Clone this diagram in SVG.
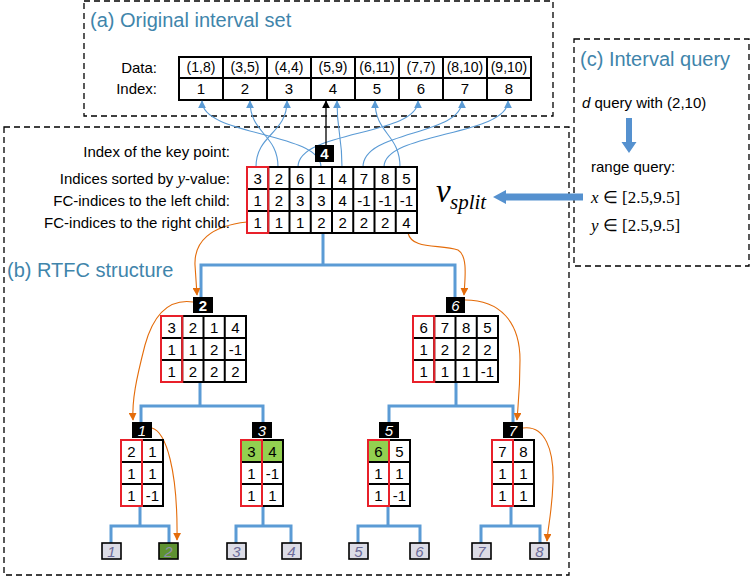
<svg xmlns="http://www.w3.org/2000/svg" width="750" height="577" viewBox="0 0 750 577">
<defs>
<style>
.frame{fill:none;stroke:#000;stroke-width:1.3;stroke-dasharray:6 4}
.title{font-family:"Liberation Sans",Arial,sans-serif;font-size:20px;fill:#3f85ab}
.lbl{font-family:"Liberation Sans",Arial,sans-serif;font-size:15px;fill:#000}
.lblr{font-family:"Liberation Sans",Arial,sans-serif;font-size:15px;fill:#000;text-anchor:end}
.cv{font-family:"Liberation Sans",Arial,sans-serif;font-size:15px;fill:#000;text-anchor:middle}
.dv{font-family:"Liberation Sans",Arial,sans-serif;font-size:14px;fill:#000;text-anchor:middle}
.tbl{fill:#fff;stroke:#000;stroke-width:2}
.grid{fill:none;stroke:#000;stroke-width:2}
.red{fill:none;stroke:#e8202a;stroke-width:2}
.green{fill:#92d050}
.key{fill:#000}
.kt{font-family:"Liberation Sans",Arial,sans-serif;font-size:15px;fill:#fff;text-anchor:middle;font-style:italic}
.ktu{font-family:"Liberation Sans",Arial,sans-serif;font-size:15px;fill:#fff;text-anchor:middle;font-weight:bold}
.leaf{fill:#dcdce6;stroke:#000;stroke-width:1.6}
.leafg{fill:#5e9231;stroke:#000;stroke-width:1.6}
.lt{font-family:"Liberation Sans",Arial,sans-serif;font-size:15px;fill:#6b6b99;text-anchor:middle;font-style:italic}
.ltg{font-family:"Liberation Sans",Arial,sans-serif;font-size:15px;fill:#8e8eae;text-anchor:middle;font-style:italic}
.tree{fill:none;stroke:#5b9bd5;stroke-width:3}
.thin{fill:none;stroke:#5b9bd5;stroke-width:1.1;marker-end:url(#ab)}
.org{fill:none;stroke:#e46c0a;stroke-width:1.1;marker-end:url(#ao)}
.serif{font-family:"Liberation Serif","Times New Roman",serif;fill:#000}
</style>
<marker id="ab" viewBox="0 0 10 10" refX="9" refY="5" markerWidth="8" markerHeight="8" markerUnits="userSpaceOnUse" orient="auto"><path d="M0,0 L10,5 L0,10 z" fill="#5b9bd5"/></marker>
<marker id="ao" viewBox="0 0 10 10" refX="9" refY="5" markerWidth="8" markerHeight="8" markerUnits="userSpaceOnUse" orient="auto"><path d="M0,0 L10,5 L0,10 z" fill="#e46c0a"/></marker>
<marker id="ak" viewBox="0 0 10 10" refX="9" refY="5" markerWidth="8" markerHeight="8" markerUnits="userSpaceOnUse" orient="auto"><path d="M0,0 L10,5 L0,10 z" fill="#000"/></marker>
</defs>
<rect width="750" height="577" fill="#fff"/>

<!-- frames -->
<g id="frame-a">
<rect class="frame" x="84" y="1" width="469" height="115"/>
<text class="title" x="90" y="27">(a) Original interval set</text>
</g>
<g id="frame-b">
<rect class="frame" x="4" y="127" width="565" height="448"/>
<text class="title" x="7" y="277">(b) RTFC structure</text>
</g>
<g id="frame-c">
<rect class="frame" x="574" y="39" width="175" height="227"/>
<text class="title" x="580" y="66">(c) Interval query</text>
<text class="lbl" x="582" y="108"><tspan font-style="italic">d</tspan> query with (2,10)</text>
<polygon points="626,118 632,118 632,142 636.5,142 629,153 621.5,142 626,142" fill="#5591cf"/>
<text class="lbl" x="591" y="172">range query:</text>
<text class="serif" x="591" y="203" font-size="17"><tspan font-style="italic">x</tspan> ∈ [2.5,9.5]</text>
<text class="serif" x="591" y="231" font-size="17"><tspan font-style="italic">y</tspan> ∈ [2.5,9.5]</text>
<polygon points="583,193.5 506,193.5 506,190 493,197 506,204 506,200.5 583,200.5" fill="#5591cf"/>
</g>

<!-- original data table -->
<g id="data-table">
<text class="lblr" x="157" y="73">Data:</text>
<text class="lblr" x="157" y="94">Index:</text>
<rect class="tbl" x="179" y="57" width="352" height="43"/>
<path class="grid" d="M179,78H531M223,57V100M267,57V100M311,57V100M355,57V100M399,57V100M443,57V100M487,57V100"/>
<text class="dv" x="201" y="72">(1,8)</text>
<text class="dv" x="245" y="72">(3,5)</text>
<text class="dv" x="289" y="72">(4,4)</text>
<text class="dv" x="333" y="72">(5,9)</text>
<text class="dv" x="377" y="72">(6,11)</text>
<text class="dv" x="421" y="72">(7,7)</text>
<text class="dv" x="465" y="72">(8,10)</text>
<text class="dv" x="509" y="72">(9,10)</text>
<text class="cv" x="201" y="94">1</text>
<text class="cv" x="245" y="94">2</text>
<text class="cv" x="289" y="94">3</text>
<text class="cv" x="333" y="94">4</text>
<text class="cv" x="377" y="94">5</text>
<text class="cv" x="421" y="94">6</text>
<text class="cv" x="465" y="94">7</text>
<text class="cv" x="509" y="94">8</text>
</g>

<!-- connectors -->
<g id="connectors">
<path class="thin" d="M321,167 C321,132 202,136 202,101"/>
<path class="thin" d="M278,167 C278,134 250,134 250,101"/>
<path class="thin" d="M256,167 C256,134 287,134 287,101"/>
<path class="thin" d="M342,167 C342,134 337,134 337,101"/>
<path class="thin" d="M400,167 C400,134 375,134 375,101"/>
<path class="thin" d="M298,167 C298,130 418,136 418,101"/>
<path class="thin" d="M363,167 C363,130 462,136 462,101"/>
<path class="thin" d="M384,167 C384,132 508,136 508,101"/>
<path d="M326,145 V101" fill="none" stroke="#000" stroke-width="1.3" marker-end="url(#ak)"/>

<path class="tree" d="M323,233 V265 M201,297 V265 H455 V297"/>
<path class="tree" d="M200,382 V406 M141,422 V406 H263 V422"/>
<path class="tree" d="M456,382 V406 M389,422 V406 H513 V422"/>
<path class="tree" d="M140,506 V526 M111,543 V526 H169 V543"/>
<path class="tree" d="M263,506 V526 M236,543 V526 H291 V543"/>
<path class="tree" d="M388,506 V526 M358,543 V526 H420 V543"/>
<path class="tree" d="M511,506 V526 M481,543 V526 H540 V543"/>

<path class="org" d="M247,222 C210,226 194,242 195,265 L197,295"/>
<path class="org" d="M408,233 C412,250 440,244 458,250 C468,256 465,278 464,295"/>
<path class="org" d="M193,302 C165,298 152,320 145,345 C136,380 132,400 133,420"/>
<path class="org" d="M465,300 C500,300 520,322 520,360 C520,392 518,405 517,420"/>
<path class="org" d="M152,428 C166,432 178,470 177,540"/>
<path class="org" d="M523,428 C545,425 554,450 553,482 C552,512 548,526 547,541"/>
</g>

<!-- root node -->
<g id="node-root">
<text class="lblr" x="230" y="157">Index of the key point:</text>
<text class="lblr" x="230" y="184">Indices sorted by <tspan font-family="Liberation Serif,serif" font-style="italic" font-size="17">y</tspan>-value:</text>
<text class="lblr" x="230" y="206">FC-indices to the left child:</text>
<text class="lblr" x="230" y="228">FC-indices to the right child:</text>
<rect class="key" x="315" y="145" width="19" height="17"/>
<text class="ktu" x="324.5" y="159">4</text>
<rect class="tbl" x="247" y="167" width="170" height="66"/>
<path class="grid" d="M247,189H417M247,211H417M268.25,167V233M289.5,167V233M310.75,167V233M332,167V233M353.25,167V233M374.5,167V233M395.75,167V233"/>
<rect class="red" x="247" y="167" width="21.25" height="66"/>
<g class="cv">
<text x="257.6" y="183.5">3</text><text x="278.9" y="183.5">2</text><text x="300.1" y="183.5">6</text><text x="321.4" y="183.5">1</text><text x="342.6" y="183.5">4</text><text x="363.9" y="183.5">7</text><text x="385.1" y="183.5">8</text><text x="406.4" y="183.5">5</text>
<text x="257.6" y="205.5">1</text><text x="278.9" y="205.5">2</text><text x="300.1" y="205.5">3</text><text x="321.4" y="205.5">3</text><text x="342.6" y="205.5">4</text><text x="363.9" y="205.5">-1</text><text x="385.1" y="205.5">-1</text><text x="406.4" y="205.5">-1</text>
<text x="257.6" y="227.5">1</text><text x="278.9" y="227.5">1</text><text x="300.1" y="227.5">1</text><text x="321.4" y="227.5">2</text><text x="342.6" y="227.5">2</text><text x="363.9" y="227.5">2</text><text x="385.1" y="227.5">2</text><text x="406.4" y="227.5">4</text>
</g>
<text class="serif" x="436" y="202" font-size="33" font-style="italic">v</text>
<text class="serif" x="450" y="209" font-size="21" font-style="italic">split</text>
</g>

<!-- node 2 -->
<g id="node-2">
<rect class="key" x="193" y="297" width="20" height="16"/>
<text class="ktu" x="203" y="311">2</text>
<rect class="tbl" x="161" y="316" width="85" height="66"/>
<path class="grid" d="M161,338H246M161,360H246M182.25,316V382M203.5,316V382M224.75,316V382"/>
<rect class="red" x="161" y="316" width="21.25" height="66"/>
<g class="cv">
<text x="171.6" y="332.5">3</text><text x="192.9" y="332.5">2</text><text x="214.1" y="332.5">1</text><text x="235.4" y="332.5">4</text>
<text x="171.6" y="354.5">1</text><text x="192.9" y="354.5">1</text><text x="214.1" y="354.5">2</text><text x="235.4" y="354.5">-1</text>
<text x="171.6" y="376.5">1</text><text x="192.9" y="376.5">2</text><text x="214.1" y="376.5">2</text><text x="235.4" y="376.5">2</text>
</g>
</g>

<!-- node 6 -->
<g id="node-6">
<rect class="key" x="446" y="297" width="19" height="16"/>
<text class="kt" x="455.5" y="311">6</text>
<rect class="tbl" x="413" y="316" width="85" height="66"/>
<path class="grid" d="M413,338H498M413,360H498M434.25,316V382M455.5,316V382M476.75,316V382"/>
<rect class="red" x="413" y="316" width="21.25" height="66"/>
<g class="cv">
<text x="423.6" y="332.5">6</text><text x="444.9" y="332.5">7</text><text x="466.1" y="332.5">8</text><text x="487.4" y="332.5">5</text>
<text x="423.6" y="354.5">1</text><text x="444.9" y="354.5">2</text><text x="466.1" y="354.5">2</text><text x="487.4" y="354.5">2</text>
<text x="423.6" y="376.5">1</text><text x="444.9" y="376.5">1</text><text x="466.1" y="376.5">1</text><text x="487.4" y="376.5">-1</text>
</g>
</g>

<!-- node 1 -->
<g id="node-1">
<rect class="key" x="132" y="422" width="20" height="16"/>
<text class="kt" x="142" y="436">1</text>
<rect class="tbl" x="121" y="440" width="42" height="66"/>
<path class="grid" d="M121,462H163M121,484H163M142,440V506"/>
<rect class="red" x="121" y="440" width="21" height="66"/>
<g class="cv">
<text x="131.5" y="456.5">2</text><text x="152.5" y="456.5">1</text>
<text x="131.5" y="478.5">1</text><text x="152.5" y="478.5">1</text>
<text x="131.5" y="500.5">1</text><text x="152.5" y="500.5">-1</text>
</g>
</g>

<!-- node 3 -->
<g id="node-3">
<rect class="key" x="252" y="422" width="20" height="16"/>
<text class="kt" x="262" y="436">3</text>
<rect class="tbl" x="241" y="440" width="42" height="66"/>
<rect class="green" x="241" y="440" width="42" height="22"/>
<path class="grid" d="M241,440H283V506H241V440M241,462H283M241,484H283M262,440V506"/>
<rect class="red" x="241" y="440" width="21" height="66"/>
<g class="cv">
<text x="251.5" y="456.5">3</text><text x="272.5" y="456.5">4</text>
<text x="251.5" y="478.5">1</text><text x="272.5" y="478.5">-1</text>
<text x="251.5" y="500.5">1</text><text x="272.5" y="500.5">1</text>
</g>
</g>

<!-- node 5 -->
<g id="node-5">
<rect class="key" x="379" y="422" width="20" height="16"/>
<text class="kt" x="389" y="436">5</text>
<rect class="tbl" x="368" y="440" width="42" height="66"/>
<rect class="green" x="368" y="440" width="21" height="22"/>
<path class="grid" d="M368,440H410V506H368V440M368,462H410M368,484H410M389,440V506"/>
<rect class="red" x="368" y="440" width="21" height="66"/>
<g class="cv">
<text x="378.5" y="456.5">6</text><text x="399.5" y="456.5">5</text>
<text x="378.5" y="478.5">1</text><text x="399.5" y="478.5">1</text>
<text x="378.5" y="500.5">1</text><text x="399.5" y="500.5">-1</text>
</g>
</g>

<!-- node 7 -->
<g id="node-7">
<rect class="key" x="503" y="422" width="20" height="16"/>
<text class="kt" x="513" y="436">7</text>
<rect class="tbl" x="492" y="440" width="42" height="66"/>
<path class="grid" d="M492,462H534M492,484H534M513,440V506"/>
<rect class="red" x="492" y="440" width="21" height="66"/>
<g class="cv">
<text x="502.5" y="456.5">7</text><text x="523.5" y="456.5">8</text>
<text x="502.5" y="478.5">1</text><text x="523.5" y="478.5">1</text>
<text x="502.5" y="500.5">1</text><text x="523.5" y="500.5">1</text>
</g>
</g>

<!-- leaves -->
<g id="leaf-1"><rect class="leaf" x="102" y="543" width="19" height="16"/><text class="lt" x="111.5" y="557">1</text></g>
<g id="leaf-2"><rect class="leafg" x="159" y="543" width="19" height="16"/><text class="ltg" x="168.5" y="557">2</text></g>
<g id="leaf-3"><rect class="leaf" x="227" y="543" width="19" height="16"/><text class="lt" x="236.5" y="557">3</text></g>
<g id="leaf-4"><rect class="leaf" x="282" y="543" width="19" height="16"/><text class="lt" x="291.5" y="557">4</text></g>
<g id="leaf-5"><rect class="leaf" x="349" y="543" width="19" height="16"/><text class="lt" x="358.5" y="557">5</text></g>
<g id="leaf-6"><rect class="leaf" x="410" y="543" width="19" height="16"/><text class="lt" x="419.5" y="557">6</text></g>
<g id="leaf-7"><rect class="leaf" x="472" y="543" width="19" height="16"/><text class="lt" x="481.5" y="557">7</text></g>
<g id="leaf-8"><rect class="leaf" x="530" y="543" width="19" height="16"/><text class="lt" x="539.5" y="557">8</text></g>
</svg>
